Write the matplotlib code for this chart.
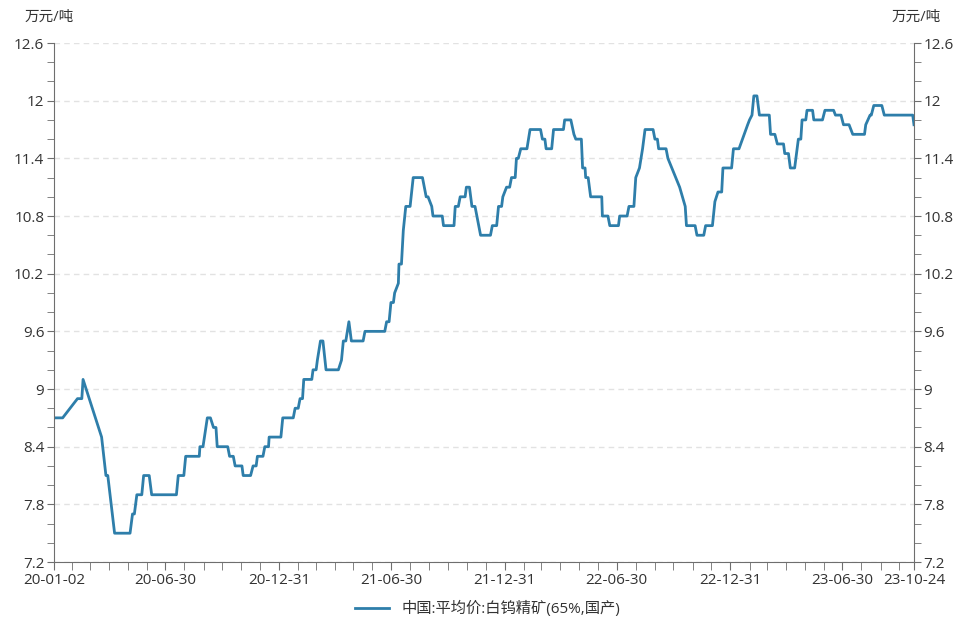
import pandas as pd
import numpy as np
import matplotlib.pyplot as plt
from matplotlib.ticker import MultipleLocator

plt.rcParams['font.family'] = ['Open Sans', 'Noto Sans CJK SC', 'DejaVu Sans']

# days since 2020-01-02, price in 万元/吨
days = [0, 14, 38, 45, 47, 77, 84, 87, 98, 123, 127, 130, 134, 142, 145, 154,
        158, 198, 201, 210, 213, 235, 236, 241, 248, 253, 258, 262, 264, 281,
        284, 290, 293, 304, 306, 318, 322, 327, 329, 338, 341, 347, 348, 367,
        370, 387, 390, 395, 398, 402, 404, 417, 419, 424, 426, 431, 435, 440,
        460, 465, 468, 472, 477, 481, 500, 503, 535, 538, 542, 545, 549, 551,
        557, 558, 562, 565, 569, 576, 581, 596, 602, 605, 611, 613, 628, 630,
        647, 649, 654, 657, 665, 667, 672, 676, 681, 684, 690, 706, 709, 716,
        719, 724, 726, 732, 737, 740, 746, 748, 751, 755, 765, 770, 787, 790,
        794, 796, 805, 808, 824, 826, 836, 841, 844, 853, 855, 859, 860, 864,
        868, 886, 887, 896, 899, 913, 915, 927, 930, 938, 941, 947, 952, 956,
        969, 972, 976, 978, 990, 993, 1012, 1021, 1023, 1037, 1040, 1051, 1054,
        1065, 1069, 1074, 1080, 1082, 1096, 1099, 1108, 1122, 1125, 1129, 1132,
        1137, 1141, 1157, 1159, 1166, 1170, 1180, 1182, 1188, 1191, 1198, 1202,
        1204, 1208, 1210, 1216, 1218, 1227, 1229, 1243, 1247, 1261, 1264, 1273,
        1277, 1286, 1292, 1311, 1313, 1320, 1322, 1326, 1339, 1343, 1389, 1391]
price = [8.7, 8.7, 8.9, 8.9, 9.1, 8.5, 8.1, 8.1, 7.5, 7.5, 7.7, 7.7, 7.9, 7.9, 8.1, 8.1,
         7.9, 7.9, 8.1, 8.1, 8.3, 8.3, 8.4, 8.4, 8.7, 8.7, 8.6, 8.6, 8.4, 8.4,
         8.3, 8.3, 8.2, 8.2, 8.1, 8.1, 8.2, 8.2, 8.3, 8.3, 8.4, 8.4, 8.5, 8.5,
         8.7, 8.7, 8.8, 8.8, 8.9, 8.9, 9.1, 9.1, 9.2, 9.2, 9.3, 9.5, 9.5, 9.2,
         9.2, 9.3, 9.5, 9.5, 9.7, 9.5, 9.5, 9.6, 9.6, 9.7, 9.7, 9.9, 9.9, 10.0,
         10.1, 10.3, 10.3, 10.65, 10.9, 10.9, 11.2, 11.2, 11.0, 11.0, 10.9, 10.8, 10.8, 10.7,
         10.7, 10.9, 10.9, 11.0, 11.0, 11.1, 11.1, 10.9, 10.9, 10.8, 10.6, 10.6, 10.7, 10.7,
         10.9, 10.9, 11.0, 11.1, 11.1, 11.2, 11.2, 11.4, 11.4, 11.5, 11.5, 11.7, 11.7, 11.6,
         11.6, 11.5, 11.5, 11.7, 11.7, 11.8, 11.8, 11.65, 11.6, 11.6, 11.3, 11.3, 11.2, 11.2,
         11.0, 11.0, 10.8, 10.8, 10.7, 10.7, 10.8, 10.8, 10.9, 10.9, 11.2, 11.3, 11.5, 11.7,
         11.7, 11.6, 11.6, 11.5, 11.5, 11.4, 11.1, 10.9, 10.7, 10.7, 10.6, 10.6, 10.7,
         10.7, 10.95, 11.05, 11.05, 11.3, 11.3, 11.5, 11.5, 11.75, 11.8, 11.85, 12.05,
         12.05, 11.85, 11.85, 11.65, 11.65, 11.55, 11.55, 11.45, 11.45, 11.3, 11.3, 11.5,
         11.6, 11.6, 11.8, 11.8, 11.9, 11.9, 11.8, 11.8, 11.9, 11.9, 11.85, 11.85,
         11.75, 11.75, 11.65, 11.65, 11.75, 11.85, 11.85, 11.95, 11.95, 11.85, 11.85, 11.75]

start = pd.Timestamp('2020-01-02')
end = pd.Timestamp('2023-10-24')
dates = start + pd.to_timedelta(days, unit='D')

label_dates = ['2020-01-02', '2020-06-30', '2020-12-31', '2021-06-30', '2021-12-31',
               '2022-06-30', '2022-12-31', '2023-06-30', '2023-10-24']
series_name = '中国:平均价:白钨精矿(65%,国产)'

fig = plt.figure(figsize=(9.6, 6.2), dpi=100)
ax = fig.add_axes([0.05625, 0.0935, 0.8958, 0.8371])

ax.plot(dates, price, color='#2e7eaa', linewidth=2, label=series_name)

ax.set_xlim(start, end)
ax.set_ylim(7.2, 12.6)
ax.yaxis.set_minor_locator(MultipleLocator(0.2))
ax.set_yticks(np.arange(7.2, 12.61, 0.6))
ax.set_yticklabels(['7.2', '7.8', '8.4', '9', '9.6', '10.2', '10.8', '11.4', '12', '12.6'])

major = pd.to_datetime(label_dates)
ax.set_xticks(major)
ax.set_xticklabels([d.strftime('%y-%m-%d') for d in major])
minor = pd.date_range('2020-01-31', '2023-09-30', freq='ME')
ax.set_xticks(minor, minor=True)

ax.grid(axis='y', which='major', linestyle=(0, (4, 3)), color='#e2e2e2', linewidth=1)
ax.set_axisbelow(True)

for s in ['left', 'right', 'bottom']:
    ax.spines[s].set_color('#6e6e6e')
ax.spines['top'].set_visible(False)

ax.tick_params(axis='y', which='both', left=True, right=True, labelleft=True,
               labelright=True, direction='out', color='#6e6e6e', length=5,
               labelsize=11, labelcolor='#333333', pad=2)
ax.tick_params(axis='x', which='both', direction='out', color='#6e6e6e',
               length=6, labelsize=11, labelcolor='#333333', pad=2)

fig.text(0.026, 0.972, '万元/吨', fontsize=10.5, color='#333333', ha='left', va='center')
fig.text(0.98, 0.972, '万元/吨', fontsize=10.5, color='#333333', ha='right', va='center')

fig.legend(loc='lower center', bbox_to_anchor=(0.508, -0.018), frameon=False,
           fontsize=11, handlelength=2.2, labelcolor='#333333')

fig.savefig('out.png', dpi=100)
